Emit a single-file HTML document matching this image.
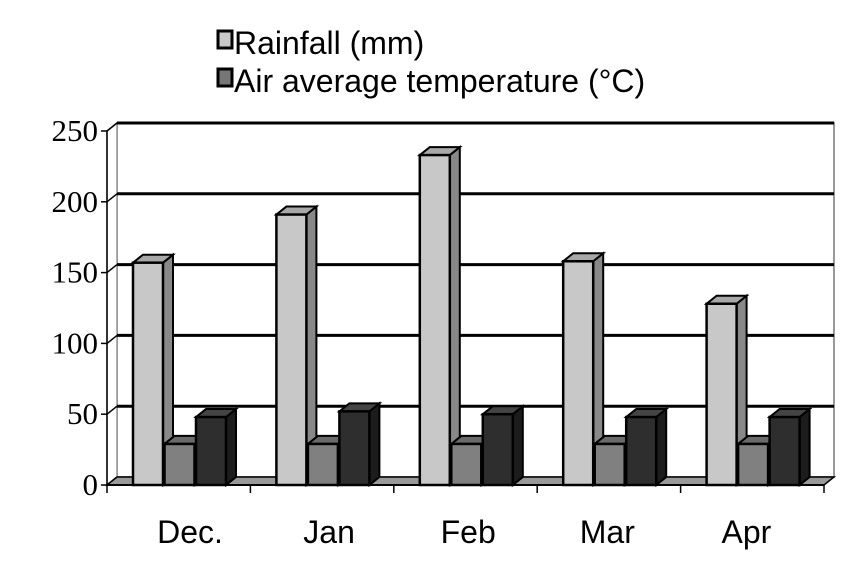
<!DOCTYPE html>
<html><head><meta charset="utf-8"><style>
body{margin:0;background:#fff;width:850px;height:564px;overflow:hidden}
svg{display:block}
.yl{font-family:"Liberation Serif",serif;font-size:31px;fill:#000}
.xl{font-family:"Liberation Sans",sans-serif;font-size:32px;fill:#000}
.lg{font-family:"Liberation Sans",sans-serif;font-size:32px;fill:#000}
</style></head><body>
<svg id="chart" width="850" height="564">
<g id="legend">
 <g><rect x="218" y="31" width="14" height="17" fill="#c8c8c8" stroke="#000" stroke-width="3"/><text class="lg" x="234" y="54">Rainfall (mm)</text></g>
 <g><rect x="218" y="69" width="14" height="17" fill="#777" stroke="#000" stroke-width="3"/><text class="lg" x="234" y="92">Air average temperature (°C)</text></g>
</g>
<g id="grid"></g>
<g id="axes"></g>
<g id="bars"></g>
</svg>
<script>
const categories = ["Dec.", "Jan", "Feb", "Mar", "Apr"];
const rainfall = [157, 191, 233, 158, 128];
const seriesB = [29, 29, 29, 29, 29];
const temperature = [48, 52, 50, 48, 48];
const yTicks = [0, 50, 100, 150, 200, 250];

const NS = "http://www.w3.org/2000/svg";
const x0 = 107, x1 = 824, y0 = 485, pxPer = 1.416, dx = 10, dy = -8;
const catW = (x1 - x0) / categories.length;
const yS = v => y0 - v * pxPer;
const xC = i => x0 + catW * i;
function el(tag, attrs, parent) { const e = document.createElementNS(NS, tag); for (const k in attrs) e.setAttribute(k, attrs[k]); parent.appendChild(e); return e; }
const grid = document.getElementById("grid"), axes = document.getElementById("axes"), bars = document.getElementById("bars");

el("polygon", {points:`${x0+dx},${yS(250)+dy} ${x1+dx},${yS(250)+dy} ${x1+dx},${y0+dy} ${x0+dx},${y0+dy}`, fill:"#fff", stroke:"#999", "stroke-width":2}, grid);
el("polygon", {points:`${x0},${yS(250)} ${x0+dx},${yS(250)+dy} ${x0+dx},${y0+dy} ${x0},${y0}`, fill:"#fff", stroke:"#999", "stroke-width":1.5}, grid);
yTicks.forEach(t => {
  const g = el("g", {}, grid);
  
  
  if (t > 0) el("line", {x1:x0+dx, x2:x1+dx, y1:yS(t)+dy, y2:yS(t)+dy, stroke:"#000", "stroke-width":3}, g);
  el("line", {x1:x0, x2:x0+dx, y1:yS(t), y2:yS(t)+dy, stroke:"#000", "stroke-width":1.5}, g);
  el("line", {x1:x0-6, x2:x0, y1:yS(t), y2:yS(t), stroke:"#000", "stroke-width":1.5}, g);
  const tx = el("text", {x:98, y:yS(t)+10, "text-anchor":"end", class:"yl"}, g);
  tx.textContent = t;
  
  
});
el("polygon", {points:`${x0},${y0} ${x1},${y0} ${x1+dx},${y0+dy} ${x0+dx},${y0+dy}`, fill:"#999", stroke:"#000", "stroke-width":1.5}, axes);
el("line", {x1:x0, x2:x0, y1:yS(250), y2:y0, stroke:"#000", "stroke-width":1.5}, axes);
el("line", {x1:x0, x2:x1, y1:y0, y2:y0, stroke:"#000", "stroke-width":2}, axes);
for (let i = 0; i <= categories.length; i++) el("line", {x1:xC(i), x2:xC(i), y1:y0, y2:y0+8, stroke:"#000", "stroke-width":1.5}, axes);
categories.forEach((c, i) => {
  const t = el("text", {x:190 + (xC(i) - x0) * 0.97, y:543, "text-anchor":"middle", class:"xl"}, axes);
  t.textContent = c;
  
  
});

const bw = 30;
const series = [[rainfall, "#c8c8c8", "#a8a8a8", "#888", "rainfall"], [seriesB, "#808080", "#6a6a6a", "#555", "series-b"], [temperature, "#2e2e2e", "#444", "#1c1c1c", "temperature"]];
categories.forEach((c, i) => {
  series.forEach((s, j) => {
    const v = s[0][i];
    const bx = xC(i) + 26 + j * 31.5, top = yS(v);
    const g = el("g", {}, bars);
    
    
    el("polygon", {points:`${bx+bw},${top} ${bx+bw+dx},${top+dy} ${bx+bw+dx},${y0+dy} ${bx+bw},${y0}`, fill:s[3], stroke:"#000", "stroke-width":2}, g);
    el("polygon", {points:`${bx},${top} ${bx+dx},${top+dy} ${bx+bw+dx},${top+dy} ${bx+bw},${top}`, fill:s[2], stroke:"#000", "stroke-width":2}, g);
    el("rect", {x:bx, y:top, width:bw, height:y0-top, fill:s[1], stroke:"#000", "stroke-width":2.5}, g);
  });
});
</script>
</body></html>
